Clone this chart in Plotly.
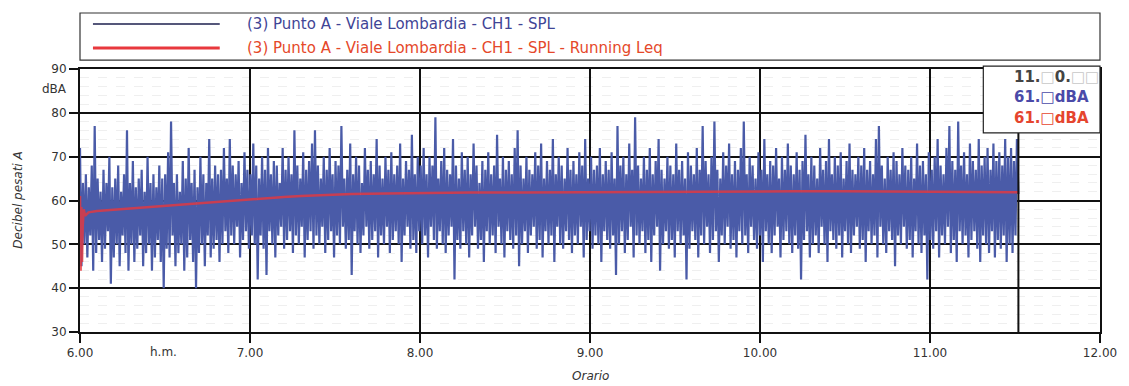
import numpy as np
import plotly.graph_objects as go

# Sound level survey, Punto A - Viale Lombardia, channel CH1 (dBA)
START_HOUR = 6.0
END_HOUR = 11.52

# Short-term SPL: local maxima and minima of each sampling pair, in time order
spl_peaks = [
    72, 64, 66, 63, 68, 77, 65, 62, 67, 64,
    70, 63, 65, 68, 62, 66, 76, 64, 69, 63,
    65, 67, 62, 70, 64, 66, 63, 68, 65, 66,
    71, 78, 64, 66, 62, 69, 65, 72, 64, 67,
    63, 70, 66, 64, 74, 65, 68, 66, 67, 72,
    65, 74, 68, 66, 69, 64, 71, 67, 66, 73,
    68, 65, 70, 67, 72, 66, 69, 68, 64, 72,
    67, 70, 66, 76, 68, 65, 71, 67, 69, 73,
    76, 68, 65, 70, 67, 72, 66, 69, 68, 77,
    65, 67, 73, 66, 70, 68, 64, 72, 67, 69,
    66, 74, 68, 65, 70, 67, 71, 66, 68, 73,
    65, 69, 67, 75, 66, 70, 68, 72, 66, 70,
    68, 79, 65, 69, 72, 67, 66, 74, 68, 65,
    71, 67, 70, 66, 73, 68, 64, 69, 67, 71,
    66, 68, 75, 65, 70, 67, 69, 66, 72, 76,
    68, 65, 70, 67, 66, 71, 68, 73, 65, 69,
    67, 74, 66, 70, 68, 65, 72, 67, 69, 66,
    71, 68, 74, 65, 70, 67, 68, 72, 66, 69,
    67, 71, 65, 77, 68, 70, 66, 73, 67, 79,
    68, 65, 70, 67, 72, 66, 69, 74, 67, 65,
    70, 68, 66, 73, 67, 69, 65, 71, 68, 66,
    72, 67, 77, 69, 66, 70, 78, 67, 65, 71,
    68, 73, 66, 69, 67, 72, 78, 66, 70, 68,
    65, 71, 67, 74, 66, 69, 68, 72, 65, 70,
    67, 73, 68, 66, 71, 67, 69, 75, 66, 70,
    68, 65, 72, 67, 69, 74, 66, 70, 68, 71,
    65, 69, 73, 67, 66, 70, 68, 72, 67, 69,
    66, 74, 77, 68, 65, 70, 67, 71, 69, 66,
    72, 68, 67, 70, 65, 73, 68, 69, 66, 71,
    67, 70, 74, 68, 66, 72, 77, 69, 67, 78,
    68, 71, 66, 73, 69, 67, 74, 68, 70, 72,
    67, 73, 69, 71, 68, 74, 70, 72, 69, 74,
]
spl_troughs = [
    45, 50, 47, 52, 44, 48, 51, 46, 49, 53,
    41, 47, 50, 45, 52, 48, 44, 50, 46, 49,
    52, 45, 48, 50, 44, 47, 51, 46, 40, 49,
    47, 52, 45, 48, 50, 44, 47, 51, 46, 40,
    48, 50, 45, 52, 47, 49, 51, 46, 50, 53,
    48, 52, 50, 54, 47, 51, 53, 49, 52, 50,
    42, 52, 49, 43, 53, 50, 47, 52, 54, 49,
    51, 53, 48, 52, 50, 54, 47, 51, 53, 49,
    52, 50, 54, 48, 51, 53, 47, 52, 50, 54,
    49, 51, 43, 53, 50, 48, 52, 54, 49, 51,
    53, 47, 52, 50, 54, 48, 51, 53, 50, 46,
    52, 54, 49, 51, 48, 53, 50, 52, 47, 54,
    51, 49, 53, 50, 48, 52, 54, 42, 51, 49,
    53, 50, 47, 52, 54, 49, 51, 46, 53, 50,
    52, 48, 54, 50, 47, 53, 51, 49, 52, 45,
    50, 53, 48, 52, 54, 49, 51, 47, 53, 50,
    52, 46, 54, 50, 49, 53, 51, 48, 52, 50,
    54, 47, 51, 53, 49, 52, 50, 46, 53, 51,
    49, 52, 43, 50, 53, 48, 51, 54, 47, 52,
    50, 53, 48, 51, 46, 52, 54, 44, 50, 53,
    49, 51, 47, 53, 50, 52, 42, 49, 53, 51,
    47, 52, 50, 54, 48, 51, 53, 46, 52, 50,
    54, 49, 51, 47, 53, 50, 52, 48, 54, 51,
    49, 52, 46, 53, 50, 48, 52, 54, 47, 51,
    53, 50, 48, 52, 49, 42, 51, 53, 47, 50,
    52, 48, 54, 50, 46, 53, 51, 49, 52, 47,
    53, 50, 48, 52, 54, 49, 51, 46, 53, 50,
    52, 47, 54, 50, 48, 53, 51, 45, 52, 50,
    54, 49, 51, 47, 53, 50, 48, 52, 42, 51,
    49, 53, 47, 52, 50, 54, 48, 51, 46, 53,
    50, 52, 47, 51, 53, 49, 46, 52, 50, 48,
    53, 47, 51, 49, 52, 46, 50, 48, 52, 61.5,
]

# Running Leq (dBA)
leq_hours = [6.000, 6.004, 6.008, 6.012, 6.016, 6.022, 6.03, 6.05, 6.1,
             6.2, 6.3, 6.4, 6.5, 6.6, 6.7, 6.8, 6.9, 7.0, 7.1, 7.2, 7.3, 7.4, 7.5, 7.6,
             7.8, 8.0, 8.3, 8.6, 9.0, 9.3, 9.6, 9.9, 10.2, 10.5, 10.8, 11.1, 11.3, 11.52]
leq_db = [61.0, 44.0, 58.5, 46.0, 54.0, 58.0, 56.5, 57.3, 57.6,
          57.9, 58.2, 58.5, 58.8, 59.1, 59.4, 59.7, 60.0, 60.3, 60.6, 60.8, 61.0, 61.2, 61.4, 61.5,
          61.6, 61.7, 61.8, 61.8, 61.9, 61.9, 62.0, 62.0, 62.1, 62.1, 62.0, 62.0, 61.9, 61.9]

x_ticks = [6, 7, 8, 9, 10, 11, 12]
x_tick_labels = ["6.00", "7.00", "8.00", "9.00", "10.00", "11.00", "12.00"]
y_ticks = [30, 40, 50, 60, 70, 80, 90]

SERIES_NAME = "(3) Punto A - Viale Lombardia - CH1 - SPL"
LEQ_NAME = "(3) Punto A - Viale Lombardia - CH1 - SPL - Running Leq"

BLUE = "#4a5ba8"
RED = "#e8383d"
FONT = "DejaVu Sans"

spl = np.empty(2 * len(spl_peaks))
spl[0::2] = spl_peaks
spl[1::2] = spl_troughs
spl_hours = np.linspace(START_HOUR, END_HOUR, len(spl))

fig = go.Figure()
fig.add_trace(go.Scatter(x=spl_hours, y=spl, mode="lines",
                         line=dict(color=BLUE, width=2.2), name=SERIES_NAME,
                         showlegend=False, hoverinfo="skip"))
fig.add_trace(go.Scatter(x=leq_hours, y=leq_db, mode="lines",
                         line=dict(color=RED, width=2.5), opacity=0.8,
                         name=LEQ_NAME, showlegend=False, hoverinfo="skip"))

shapes = [
    # cursor at the end of the recording
    dict(type="line", xref="x", yref="y", x0=END_HOUR, x1=END_HOUR, y0=30, y1=90,
         line=dict(color="#111", width=2), layer="above"),
    # cursor readout box
    dict(type="rect", xref="paper", yref="paper", x0=0.8856, x1=1.0, y0=0.757, y1=1.011,
         fillcolor="white", line=dict(color="#222", width=1.2), layer="above"),
    # legend frame and samples
    dict(type="rect", xref="paper", yref="paper", x0=0.0, x1=1.0, y0=1.034, y1=1.213,
         fillcolor="white", line=dict(color="#333", width=1.2)),
    dict(type="line", xref="paper", yref="paper", x0=0.0127, x1=0.137, y0=1.171, y1=1.171,
         line=dict(color="#55577a", width=2)),
    dict(type="line", xref="paper", yref="paper", x0=0.0127, x1=0.137, y0=1.080, y1=1.080,
         line=dict(color=RED, width=3)),
]

box = "<span style='color:#c8c8c8'>□</span>"
annotations = [
    dict(text=SERIES_NAME, x=0.1613, y=1.171, xref="paper", yref="paper",
         xanchor="left", yanchor="middle", showarrow=False,
         font=dict(family=FONT, size=15, color="#3f4596")),
    dict(text=LEQ_NAME, x=0.1613, y=1.080, xref="paper", yref="paper",
         xanchor="left", yanchor="middle", showarrow=False,
         font=dict(family=FONT, size=15, color="#e5482a")),
    dict(text="<b>11.</b>" + box + "<b>0.</b>" + box + box, x=0.914, y=0.968,
         xref="paper", yref="paper", xanchor="left", yanchor="middle", showarrow=False,
         font=dict(family=FONT, size=15, color="#444")),
    dict(text="<b>61.□dBA</b>", x=0.914, y=0.893, xref="paper", yref="paper",
         xanchor="left", yanchor="middle", showarrow=False,
         font=dict(family=FONT, size=15, color="#4a4aa8")),
    dict(text="<b>61.□dBA</b>", x=0.914, y=0.815, xref="paper", yref="paper",
         xanchor="left", yanchor="middle", showarrow=False,
         font=dict(family=FONT, size=15, color="#e5452e")),
    dict(text="dBA", x=-0.0108, y=0.925, xref="paper", yref="paper",
         xanchor="right", yanchor="middle", showarrow=False,
         font=dict(family=FONT, size=12, color="#333")),
    dict(text="h.m.", x=0.0821, y=-0.076, xref="paper", yref="paper",
         xanchor="center", yanchor="middle", showarrow=False,
         font=dict(family=FONT, size=12, color="#333")),
    dict(text="<i>Orario</i>", x=0.5005, y=-0.167, xref="paper", yref="paper",
         xanchor="center", yanchor="middle", showarrow=False,
         font=dict(family=FONT, size=12, color="#333")),
    dict(text="<i>Decibel pesati A</i>", x=-0.0616, y=0.5, xref="paper", yref="paper",
         xanchor="center", yanchor="middle", textangle=-90, showarrow=False,
         font=dict(family=FONT, size=12, color="#333")),
]

fig.update_layout(
    width=1129, height=386,
    margin=dict(l=80, r=26, t=69, b=54),
    paper_bgcolor="white", plot_bgcolor="white",
    shapes=shapes, annotations=annotations,
    xaxis=dict(range=[6, 12], tickvals=x_ticks, ticktext=x_tick_labels,
               showgrid=True, gridcolor="#111", gridwidth=2,
               showline=True, linecolor="#111", linewidth=2, mirror=True,
               ticks="outside", ticklen=9, tickwidth=1.5, tickcolor="#111",
               tickfont=dict(family=FONT, size=12, color="#333"), zeroline=False),
    yaxis=dict(range=[30, 90], tickvals=y_ticks,
               showgrid=True, gridcolor="#111", gridwidth=1.6,
               showline=True, linecolor="#111", linewidth=2, mirror=True,
               ticks="outside", ticklen=9, tickwidth=1.5, tickcolor="#111",
               tickfont=dict(family=FONT, size=12, color="#333"), zeroline=False,
               minor=dict(dtick=2, showgrid=True, gridcolor="#efefef",
                          griddash="dash", gridwidth=1, ticks="")),
)

fig.write_html("out.html")
